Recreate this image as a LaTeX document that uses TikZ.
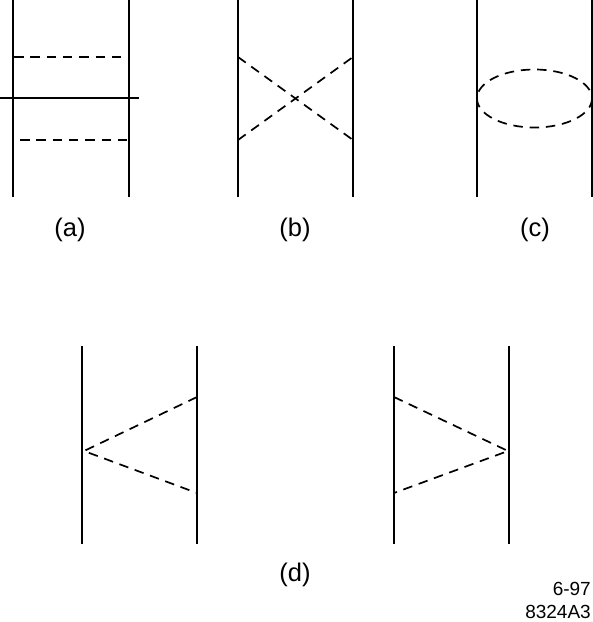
\documentclass[tikz,border=0pt]{standalone}
\usepackage{fontspec}
\setmainfont{Liberation Sans}
\usepackage{tikz}
\usetikzlibrary{positioning,calc}
\begin{document}
\begin{tikzpicture}[x=1pt,y=-1pt,
        quark/.style={line width=1.8pt},
        gluon/.style={line width=1.7pt, dash pattern=on 9.5pt off 6.8pt},
        lab/.style={font=\fontsize{25.5}{28}\selectfont, inner sep=0pt},
        tag/.style={font=\fontsize{19}{21}\selectfont, inner sep=0pt, anchor=east}
      ]
        \useasboundingbox (0,0) rectangle (593,622);
        % (a)
        \coordinate (a1t) at (13,0);   \coordinate (a1b) at (13,197);
        \coordinate (a2t) at (129,0);  \coordinate (a2b) at (129,197);
        \coordinate (a3l) at (0,98);   \coordinate (a3r) at (139,98);
        \coordinate (a4l) at (14,57);  \coordinate (a4r) at (122,57);
        \coordinate (a5l) at (20,140); \coordinate (a5r) at (128,140);
        \draw[quark] (a1t)--(a1b); \draw[quark] (a2t)--(a2b);
        \draw[quark] (a3l)--(a3r);
        \draw[gluon] (a4l)--(a4r); \draw[gluon] (a5l)--(a5r);
        \node[lab] (la) at (70,230) {(a)};
        % (b)
        \coordinate (b1t) at (238,0);  \coordinate (b1b) at (238,197);
        \coordinate (b2t) at (353,0);  \coordinate (b2b) at (353,197);
        \coordinate (b3) at (238,57);  \coordinate (b4) at (353,140);
        \coordinate (b5) at (238,140); \coordinate (b6) at (353,57);
        \draw[quark] (b1t)--(b1b); \draw[quark] (b2t)--(b2b);
        \draw[gluon] (b3)--(b4); \draw[gluon] (b5)--(b6);
        \node[lab] (lb) at (295,230) {(b)};
        % (c)
        \coordinate (c1t) at (477,0);  \coordinate (c1b) at (477,197);
        \coordinate (c2t) at (592,0);  \coordinate (c2b) at (592,197);
        \coordinate (cc) at (534.5,98.5);
        \draw[quark] (c1t)--(c1b); \draw[quark] (c2t)--(c2b);
        \draw[gluon] (cc) ellipse (57.5 and 29);
        \node[lab] (lc) at (535,230) {(c)};
        % (d)
        \coordinate (d1t) at (82,346);  \coordinate (d1b) at (82,544);
        \coordinate (d2t) at (197,346); \coordinate (d2b) at (197,544);
        \coordinate (d3) at (197,397);  \coordinate (d4) at (84,451);
        \coordinate (d5) at (197,493);
        \draw[quark] (d1t)--(d1b); \draw[quark] (d2t)--(d2b);
        \draw[gluon] (d3)--(d4)--(d5);
        \coordinate (e1t) at (394,346); \coordinate (e1b) at (394,544);
        \coordinate (e2t) at (509,346); \coordinate (e2b) at (509,544);
        \coordinate (e3) at (394,397);  \coordinate (e4) at (508,451);
        \coordinate (e5) at (394,493);
        \draw[quark] (e1t)--(e1b); \draw[quark] (e2t)--(e2b);
        \draw[gluon] (e3)--(e4)--(e5);
        \node[lab] (ld) at (295,575) {(d)};
        \node[tag] (t1) at (591,589) {6-97};
        \node[tag] (t2) at (591,612) {8324A3};
      \end{tikzpicture}
\end{document}
